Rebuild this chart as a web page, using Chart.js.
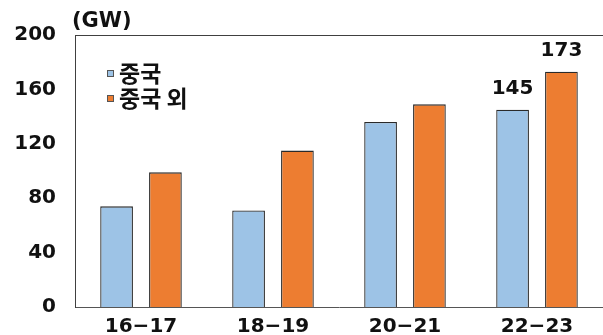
<!DOCTYPE html>
<html>
<head>
<meta charset="utf-8">
<script src="https://cdn.jsdelivr.net/npm/chart.js@4"></script>
<style>
  html, body { margin: 0; padding: 0; background: #fff; }
  #wrap { width: 603px; height: 335px; }
</style>
</head>
<body>
<div id="wrap"><canvas id="chart"></canvas></div>
<script>
// --- data ---
const periods = ["16−17", "18−19", "20−21", "22−23"];
const chinaValues = [74, 71, 136, 145];
const outsideValues = [99, 115, 149, 173];
const seriesNames = ["중국", "중국 외"];
const yTicks = [0, 40, 80, 120, 160, 200];
const unitLabel = "(GW)";

const FONT = "'DejaVu Sans', Verdana, sans-serif";
const KR_FONT = "'Noto Sans CJK KR', sans-serif";
const blue = "#9DC3E6";
const orange = "#ED7D31";

// top frame line, unit label, legend inside plot, values on last pair
const extras = {
    id: "extras",
    afterDraw(chart) {
        const ctx = chart.ctx;
        const area = chart.chartArea;
        ctx.save();
        ctx.strokeStyle = "#404040";
        ctx.lineWidth = 1;
        ctx.beginPath();
        ctx.moveTo(area.left, Math.round(area.top) + 0.5);
        ctx.lineTo(chart.width, Math.round(area.top) + 0.5);
        ctx.stroke();

        ctx.fillStyle = "#111";
        ctx.font = "bold 21px " + FONT;
        ctx.textBaseline = "middle";
        ctx.textAlign = "left";
        ctx.fillText(unitLabel, 72, 22);

        // legend
        ctx.font = "bold 23px " + KR_FONT;
        [blue, orange].forEach((c, i) => {
            const y = 73 + i * 25;
            ctx.fillStyle = c;
            ctx.fillRect(107, y - 3, 7, 7);
            ctx.strokeStyle = "#555";
            ctx.strokeRect(107.5, y - 2.5, 6, 6);
            ctx.fillStyle = "#111";
            ctx.fillText(seriesNames[i], 119, y);
        });

        // value labels on the last category
        ctx.font = "bold 20px " + FONT;
        ctx.textAlign = "center";
        ctx.textBaseline = "bottom";
        const last = periods.length - 1;
        chart.data.datasets.forEach((ds, i) => {
            const bar = chart.getDatasetMeta(i).data[last];
            ctx.fillText(String(ds.data[last]), bar.x, bar.y - 11);
        });
        ctx.restore();
    }
};

new Chart(document.getElementById("chart"), {
    type: "bar",
    data: {
        labels: periods,
        datasets: [
            {
                label: seriesNames[0],
                data: chinaValues,
                backgroundColor: blue,
                borderColor: "#2a2a2a",
                borderWidth: 1.3,
                categoryPercentage: 0.74,
                barPercentage: 0.67
            },
            {
                label: seriesNames[1],
                data: outsideValues,
                backgroundColor: orange,
                borderColor: "#2a2a2a",
                borderWidth: 1.3,
                categoryPercentage: 0.74,
                barPercentage: 0.67
            }
        ]
    },
    options: {
        responsive: true,
        maintainAspectRatio: false,
        animation: false,
        layout: { padding: { top: 35, right: 0, left: 0, bottom: 0 } },
        plugins: {
            legend: { display: false },
            tooltip: { enabled: false }
        },
        scales: {
            x: {
                grid: { display: false },
                border: { color: "#555", width: 1 },
                ticks: {
                    color: "#111",
                    font: { family: FONT, size: 20, weight: "bold" },
                    padding: 0
                },
                afterFit(scale) { scale.height = 28; }
            },
            y: {
                min: 0,
                max: 200,
                grid: { display: false },
                border: { color: "#404040", width: 1 },
                afterBuildTicks(scale) {
                    scale.ticks = yTicks.map(v => ({ value: v }));
                },
                ticks: {
                    color: "#111",
                    font: { family: FONT, size: 20, weight: "bold" },
                    padding: 11
                },
                afterFit(scale) { scale.width = 75; }
            }
        }
    },
    plugins: [extras]
});
</script>
</body>
</html>
